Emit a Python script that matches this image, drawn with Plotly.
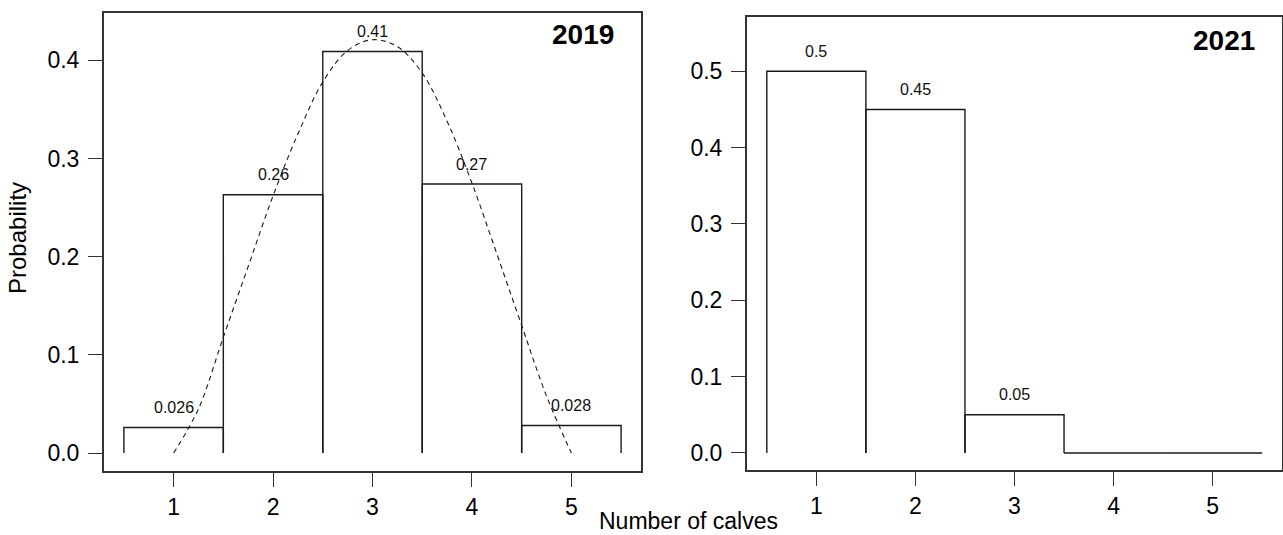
import plotly.graph_objects as go

# ---- data ----
calves = [1, 2, 3, 4, 5]
prob_2019 = [0.026, 0.263, 0.409, 0.274, 0.028]
labels_2019 = ["0.026", "0.26", "0.41", "0.27", "0.028"]
prob_2021 = [0.5, 0.45, 0.05, 0.0, 0.0]
labels_2021 = ["0.5", "0.45", "0.05", "", ""]
curve_x = [1, 1.25, 1.5, 1.75, 2, 2.25, 2.5, 2.75, 3, 3.25, 3.5, 3.75, 4, 4.25, 4.5, 4.75, 5]
curve_y = [0.0, 0.045, 0.118, 0.19, 0.262, 0.325, 0.378, 0.41, 0.421, 0.414, 0.387, 0.338,
           0.275, 0.203, 0.13, 0.058, 0.0]
ticks_2019 = [0.0, 0.1, 0.2, 0.3, 0.4]
ticks_2021 = [0.0, 0.1, 0.2, 0.3, 0.4, 0.5]

FONT = "Liberation Sans, Arial, Helvetica, sans-serif"
BAR_COL = "#1a1a1a"
BOX_COL = "#333333"


def outline(xs, ys):
    px, py = [], []
    for c, v in zip(xs, ys):
        px += [c - 0.5, c - 0.5, c + 0.5, c + 0.5, None]
        py += [0, v, v, 0, None]
    return px, py


fig = go.Figure()

x1, y1 = outline(calves, prob_2019)
fig.add_trace(go.Scatter(x=x1, y=y1, mode="lines", line=dict(color=BAR_COL, width=1.4),
                         xaxis="x", yaxis="y", showlegend=False, hoverinfo="skip"))
fig.add_trace(go.Scatter(x=curve_x, y=curve_y, mode="lines",
                         line=dict(color=BAR_COL, width=1.1, dash="5px,4px", shape="spline"),
                         xaxis="x", yaxis="y", showlegend=False, hoverinfo="skip"))
x2, y2 = outline(calves, prob_2021)
fig.add_trace(go.Scatter(x=x2, y=y2, mode="lines", line=dict(color=BAR_COL, width=1.4),
                         xaxis="x2", yaxis="y2", showlegend=False, hoverinfo="skip"))

annotations = []
for c, v, t in zip(calves, prob_2019, labels_2019):
    annotations.append(dict(x=c, y=v, xref="x", yref="y", text=t, showarrow=False,
                            yshift=20, font=dict(family=FONT, size=16, color="#111")))
for c, v, t in zip(calves, prob_2021, labels_2021):
    if t:
        annotations.append(dict(x=c, y=v, xref="x2", yref="y2", text=t, showarrow=False,
                                yshift=20, font=dict(family=FONT, size=16, color="#111")))
annotations.append(dict(x=1, y=1, xref="x domain", yref="y domain", text="<b>2019</b>",
                        showarrow=False, xanchor="right", yanchor="middle", xshift=-25, yshift=-22,
                        font=dict(family=FONT, size=28, color="#000")))
annotations.append(dict(x=1, y=1, xref="x2 domain", yref="y2 domain", text="<b>2021</b>",
                        showarrow=False, xanchor="right", yanchor="middle", xshift=-25, yshift=-23,
                        font=dict(family=FONT, size=28, color="#000")))
annotations.append(dict(x=17 / 1283, y=1 - 238 / 535, xref="paper", yref="paper", text="Probability",
                        showarrow=False, textangle=-90, xanchor="center", yanchor="middle",
                        font=dict(family=FONT, size=24, color="#000")))
annotations.append(dict(x=688 / 1283, y=1 - 521 / 535, xref="paper", yref="paper",
                        text="Number of calves", showarrow=False, xanchor="center", yanchor="middle",
                        font=dict(family=FONT, size=23, color="#000")))

axis_common = dict(showgrid=False, zeroline=False, showline=True, mirror=True,
                   linecolor=BOX_COL, linewidth=2, ticks="outside", ticklen=14, tickwidth=1.4,
                   tickcolor=BOX_COL, tickfont=dict(family=FONT, size=23, color="#000"))

fig.update_layout(
    width=1283, height=535,
    margin=dict(l=0, r=0, t=0, b=0),
    paper_bgcolor="white", plot_bgcolor="white",
    xaxis=dict(domain=[104 / 1283, 641 / 1283], range=[0.3, 5.7], tickvals=calves,
               anchor="y", ticklabelstandoff=0, **axis_common),
    yaxis=dict(domain=[1 - 471 / 535, 1 - 12.7 / 535], range=[-0.0183, 0.4485],
               tickvals=ticks_2019, tickformat=".1f", anchor="x", ticklabelstandoff=4, **axis_common),
    xaxis2=dict(domain=[747 / 1283, 1282 / 1283], range=[0.3, 5.7], tickvals=calves,
                anchor="y2", ticklabelstandoff=0, **axis_common),
    yaxis2=dict(domain=[1 - 470 / 535, 1 - 17 / 535], range=[-0.0223, 0.5711],
                tickvals=ticks_2021, tickformat=".1f", anchor="x2", ticklabelstandoff=4, **axis_common),
    annotations=annotations,
)

fig.write_html("out.html", config={"displayModeBar": False},
               post_script="document.body.style.margin='0px';document.body.style.overflow='hidden';")
